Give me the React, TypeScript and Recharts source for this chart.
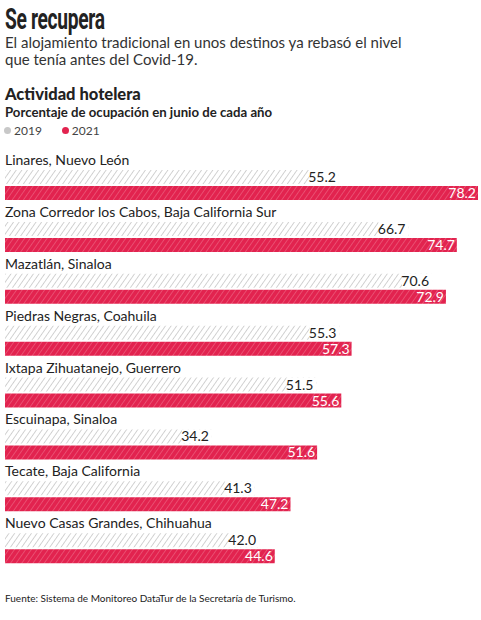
import React from "react";
import { BarChart, Bar, XAxis, YAxis, LabelList, Legend } from "recharts";

const categories = [
  "Linares, Nuevo León",
  "Zona Corredor los Cabos, Baja California Sur",
  "Mazatlán, Sinaloa",
  "Piedras Negras, Coahuila",
  "Ixtapa Zihuatanejo, Guerrero",
  "Escuinapa, Sinaloa",
  "Tecate, Baja California",
  "Nuevo Casas Grandes, Chihuahua",
];
const values2019 = [55.2, 66.7, 70.6, 55.3, 51.5, 34.2, 41.3, 42.0];
const values2021 = [78.2, 74.7, 72.9, 57.3, 55.6, 51.6, 47.2, 44.6];
const seriesNames = ["2019", "2021"];

const data = categories.map((name, i) => ({
  name,
  y2019: values2019[i],
  y2021: values2021[i],
}));

const FONT = "Lato, 'Open Sans', sans-serif";
const RED = "#e2234f";
const GRAY_DOT = "#c8c8c8";

const CategoryLabel = (props: any) => {
  const { x, y, value } = props;
  return (
    <text x={x} y={y - 5} fontSize={14} fontFamily={FONT} fill="#222">
      {value}
    </text>
  );
};

const GrayValueLabel = (props: any) => {
  const { x, y, width, height, value } = props;
  const end = x + width;
  return (
    <g>
      <rect x={end - 30} y={y} width={30} height={height} fill="#fff" />
      <text
        x={end - 3}
        y={y + height / 2 + 5}
        textAnchor="end"
        fontSize={14}
        fontFamily={FONT}
        fill="#222"
      >
        {Number(value).toFixed(1)}
      </text>
    </g>
  );
};

const RedValueLabel = (props: any) => {
  const { x, y, width, height, value } = props;
  return (
    <text
      x={x + width - 2}
      y={y + height / 2 + 5}
      textAnchor="end"
      fontSize={14}
      fontFamily={FONT}
      fill="#fff"
    >
      {Number(value).toFixed(1)}
    </text>
  );
};

const LegendContent = (props: any) => {
  const { payload } = props;
  const colors = [GRAY_DOT, RED];
  return (
    <div style={{ display: "flex", alignItems: "center", fontSize: 12, color: "#444", fontFamily: FONT }}>
      {(payload || []).map((p: any, i: number) => (
        <div key={i} style={{ display: "flex", alignItems: "center", marginRight: 20 }}>
          <span
            style={{
              display: "inline-block",
              width: 7,
              height: 7,
              borderRadius: "50%",
              background: colors[i],
              marginRight: 3,
            }}
          />
          <span>{p.value}</span>
        </div>
      ))}
    </div>
  );
};

export default function App() {
  return (
    <div
      style={{
        position: "absolute",
        left: 0,
        top: 0,
        width: 481,
        height: 620,
        background: "#fff",
        fontFamily: FONT,
        overflow: "hidden",
      }}
    >
      <BarChart
        width={481}
        height={620}
        data={data}
        layout="vertical"
        margin={{ top: 159, right: 3, bottom: 46, left: 5 }}
        barSize={14}
        barGap={2}
      >
        <defs>
          <pattern
            id="hatchGray"
            patternUnits="userSpaceOnUse"
            width={4.6}
            height={4.6}
            patternTransform="rotate(35)"
          >
            <rect width={4.6} height={4.6} fill="#fff" />
            <line x1={0} y1={0} x2={0} y2={4.6} stroke="#c4c4c4" strokeWidth={1.5} />
          </pattern>
          <pattern
            id="hatchRed"
            patternUnits="userSpaceOnUse"
            width={4.6}
            height={4.6}
            patternTransform="rotate(35)"
          >
            <rect width={4.6} height={4.6} fill={RED} />
            <line x1={0} y1={0} x2={0} y2={4.6} stroke="#ee6f8a" strokeWidth={1.1} />
          </pattern>
        </defs>
        <XAxis type="number" domain={[0, 78.2]} hide />
        <YAxis type="category" dataKey="name" hide />
        <Legend
          verticalAlign="middle"
          align="center"
          layout="horizontal"
          content={LegendContent}
          wrapperStyle={{
            position: "absolute",
            top: 123,
            left: 4,
            width: 200,
          }}
        />
        <Bar
          dataKey="y2019"
          name={seriesNames[0]}
          fill="url(#hatchGray)"
          isAnimationActive={false}
        >
          <LabelList dataKey="name" content={CategoryLabel} />
          <LabelList dataKey="y2019" content={GrayValueLabel} />
        </Bar>
        <Bar
          dataKey="y2021"
          name={seriesNames[1]}
          fill="url(#hatchRed)"
          isAnimationActive={false}
        >
          <LabelList dataKey="y2021" content={RedValueLabel} />
        </Bar>
      </BarChart>

      <div
        style={{
          position: "absolute",
          left: 5,
          top: 1,
          fontFamily: "Roboto, sans-serif",
          fontWeight: 700,
          fontSize: 30,
          color: "#222",
          transform: "scaleX(0.64)",
          transformOrigin: "left top",
          whiteSpace: "nowrap",
          letterSpacing: -0.5,
        }}
      >
        Se recupera
      </div>
      <div
        style={{
          position: "absolute",
          left: 5,
          top: 34,
          fontSize: 15,
          lineHeight: "17px",
          color: "#333",
          width: 470,
        }}
      >
        El alojamiento tradicional en unos destinos ya rebasó el nivel
        <br />
        que tenía antes del Covid-19.
      </div>
      <div
        style={{
          position: "absolute",
          left: 5,
          top: 84,
          fontSize: 16.5,
          fontWeight: 900,
          color: "#222",
          whiteSpace: "nowrap",
        }}
      >
        Actividad hotelera
      </div>
      <div
        style={{
          position: "absolute",
          left: 5,
          top: 104,
          fontSize: 13.2,
          fontWeight: 700,
          color: "#222",
          whiteSpace: "nowrap",
        }}
      >
        Porcentaje de ocupación en junio de cada año
      </div>
      <div
        style={{
          position: "absolute",
          left: 5,
          top: 592,
          fontSize: 10,
          color: "#222",
          whiteSpace: "nowrap",
        }}
      >
        Fuente: Sistema de Monitoreo DataTur de la Secretaría de Turismo.
      </div>
    </div>
  );
}
